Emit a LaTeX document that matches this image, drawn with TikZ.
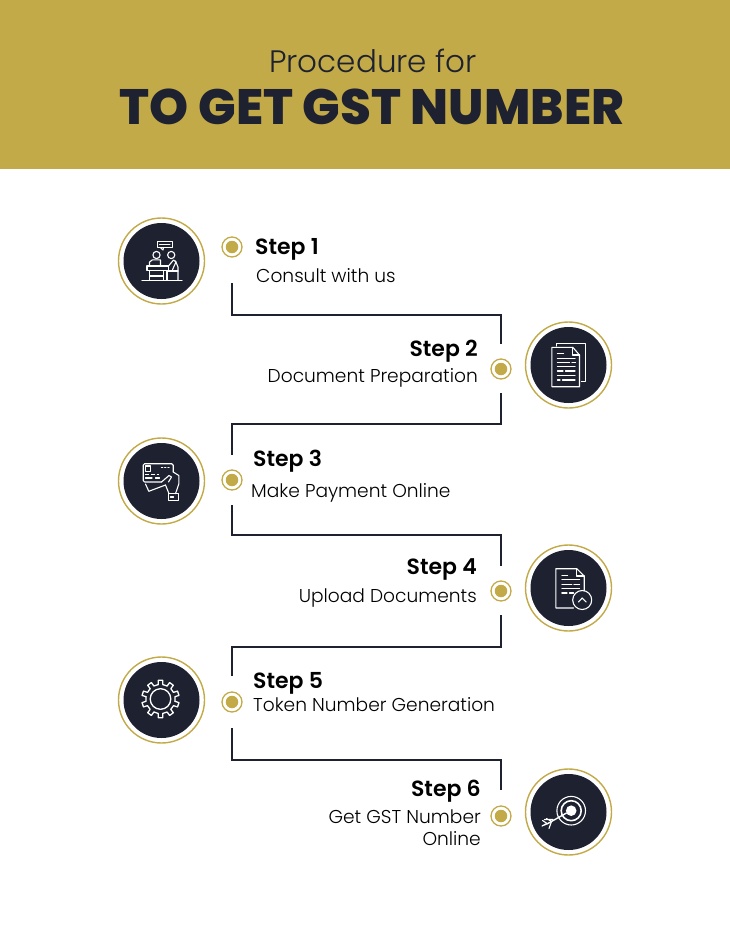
\documentclass[tikz,border=0pt]{standalone}
\usepackage{fontspec}
\setmainfont{Poppins}
\newfontfamily\lightfont{Poppins Light}
\newfontfamily\semifont{Poppins SemiBold}
\newfontfamily\heavyfont{Poppins ExtraBold}
\definecolor{gold}{HTML}{C3AA48}
\definecolor{navy}{HTML}{1E2130}
\tikzset{
  badge/.style={circle, draw=gold, line width=1.4pt, fill=white, minimum size=86pt, inner sep=0pt},
  disc/.style={circle, fill=navy, minimum size=76pt, inner sep=0pt},
  marker/.style={circle, draw=gold, line width=1.3pt, fill=white, minimum size=20pt, inner sep=0pt},
  markerdot/.style={circle, fill=gold, minimum size=12.5pt, inner sep=0pt},
  steptitle/.style={font=\semifont\fontsize{22}{26}\selectfont, text=black, inner sep=0pt},
  stepdesc/.style={font=\lightfont\fontsize{18.6}{22}\selectfont, text=black, inner sep=0pt},
  link/.style={draw=navy, line width=1.2pt},
  iconline/.style={draw=white, line width=1.1pt, line join=round, line cap=round}
}
\begin{document}
\begin{tikzpicture}[x=1pt, y=-1pt]
        \useasboundingbox (0,0) rectangle (730,942);

        % Header band
        \fill[gold] (0,0) rectangle (730,169);
        \node[text=navy, inner sep=0pt, anchor=base, font=\lightfont\fontsize{31}{36}\selectfont] (subtitle) at (373,73) {Procedure for};
        \node[text=navy, inner sep=0pt, anchor=base, font=\heavyfont\fontsize{49.7}{56}\selectfont] (title) at (372,124) {TO GET GST NUMBER};

        % Round badges
        \node[badge] (badge1) at (161.5,261) {};
        \node[badge] (badge2) at (568.5,365) {};
        \node[badge] (badge3) at (161.5,481) {};
        \node[badge] (badge4) at (568.5,588) {};
        \node[badge] (badge5) at (161.5,700) {};
        \node[badge] (badge6) at (568.5,812) {};
        \node[disc] (disc1) at (badge1) {};
        \node[disc] (disc2) at (badge2) {};
        \node[disc] (disc3) at (badge3) {};
        \node[disc] (disc4) at (badge4) {};
        \node[disc] (disc5) at (badge5) {};
        \node[disc] (disc6) at (badge6) {};

        % Small markers
        \node[marker] (dot1) at (232,247) {};
        \node[marker] (dot2) at (501,369) {};
        \node[marker] (dot3) at (232,480) {};
        \node[marker] (dot4) at (501,591) {};
        \node[marker] (dot5) at (232,702) {};
        \node[marker] (dot6) at (501,816) {};
        \node[markerdot] (core1) at (dot1) {};
        \node[markerdot] (core2) at (dot2) {};
        \node[markerdot] (core3) at (dot3) {};
        \node[markerdot] (core4) at (dot4) {};
        \node[markerdot] (core5) at (dot5) {};
        \node[markerdot] (core6) at (dot6) {};

        % Step titles
        \node[steptitle, anchor=base west] (step1) at (255,254) {Step 1};
        \node[steptitle, anchor=base east] (step2) at (478,356) {Step 2};
        \node[steptitle, anchor=base west] (step3) at (253,466) {Step 3};
        \node[steptitle, anchor=base east] (step4) at (477,574) {Step 4};
        \node[steptitle, anchor=base west] (step5) at (253,688) {Step 5};
        \node[steptitle, anchor=base east] (step6) at (481,796) {Step 6};

        % Step descriptions
        \node[stepdesc, anchor=base west] (desc1) at (256,282) {Consult with us};
        \node[stepdesc, anchor=base east] (desc2) at (478,382) {Document Preparation};
        \node[stepdesc, anchor=base west] (desc3) at (251,497) {Make Payment Online};
        \node[stepdesc, anchor=base east] (desc4) at (477,602) {Upload Documents};
        \node[stepdesc, anchor=base west] (desc5) at (253,711) {Token Number Generation};
        \node[stepdesc, anchor=base east] (desc6) at (481,823) {Get GST Number};
        \node[stepdesc, anchor=base east] (desc6b) at (481,845) {Online};

        % Connectors between markers
        \draw[link] ([yshift=-36pt]dot1.center) -- ++(0,32) -| ([yshift=25pt]dot2.center);
        \draw[link] ([yshift=-24pt]dot2.center) -- ++(0,31) -| ([yshift=25pt]dot3.center);
        \draw[link] ([yshift=-25pt]dot3.center) -- ++(0,30) -| ([yshift=25pt]dot4.center);
        \draw[link] ([yshift=-24pt]dot4.center) -- ++(0,32) -| ([yshift=26pt]dot5.center);
        \draw[link] ([yshift=-26pt]dot5.center) -- ++(0,32) -| ([yshift=26pt]dot6.center);

        % Icon: consultation
        \begin{scope}[shift={(badge1)}, iconline]
            \draw (-4.3,-19.7) rectangle (11,-13.3);
            \draw[line width=1pt] (-2,-16.5) -- (8.5,-16.5);
            \draw (-1,-13.3) -- (1.5,-11) -- (2,-13.3);
            \draw (-5,-6) circle (3.6);
            \draw (9.7,-6) circle (3.6);
            \draw (-12,5) -- (-12,1) -- (-9,-1.2) -- (-1,-1.2) -- (-1,5);
            \draw (7,5) -- (12,-1) -- (14.5,1) -- (11,8.7);
            \draw (14,0) -- (16.5,6) -- (16.5,19);
            \draw (-14.5,5) rectangle (7,9.7);
            \draw (-12,9.7) -- (-12,19);
            \draw (2,9.7) -- (2,19);
            \draw (-12,15) -- (2,15);
            \draw (5.5,10) -- (16.5,10);
            \draw (5.5,10) -- (5.5,19);
            \draw (-19.5,19.3) -- (20.5,19.3);
        \end{scope}

        % Icon: documents
        \begin{scope}[shift={(badge2)}, iconline]
            \draw (-12.3,-19) -- (-12.3,-21.7) -- (16.7,-21.7) -- (16.7,16.7) -- (13,16.7);
            \draw (-16.7,-17.7) -- (4.3,-17.7) -- (11,-10) -- (11,21.7) -- (-16.7,21.7) -- cycle;
            \draw (4.3,-17.7) -- (4.3,-10) -- (11,-10);
            \draw (-11,-11.5) -- (-5,-11.5);
            \draw (-11,-6.7) -- (6.5,-6.7);
            \draw (-11,-2.3) -- (1,-2.3);
            \draw (3.5,-2.3) -- (7,-2.3);
            \draw (-11,1.7) -- (6.5,1.7);
            \draw (-11,6) -- (-5.5,6);
            \draw (-3,6) -- (6.5,6);
            \draw (-11,10.7) -- (6.5,10.7);
            \draw (-11,15) -- (-8.5,15);
            \draw (-6,15) -- (6.5,15);
        \end{scope}

        % Icon: card payment
        \begin{scope}[shift={(badge3)}, iconline]
            \draw[rounded corners=1.5pt] (0,1) -- (-18.3,1) -- (-18.3,-17.3) -- (11.7,-17.3) -- (11.7,-9);
            \draw (-16,-15) rectangle (-11,-9.7);
            \draw[dotted, line width=1.2pt] (0,-13.3) -- (9,-13.3);
            \draw[dashed] (-16,-6.7) -- (-3,-6.7);
            \draw (-16,-3) -- (-9.5,-3);
            \draw (-6,-3) -- (-2,-3);
            \draw (-16,3) -- (-12.7,10.3) -- (4,4);
            \draw (0,1) -- (7.5,-5.5) -- (10,-4) -- (7,1);
            \draw (11.7,-9) -- (17.3,-5.5) -- (17.3,3) -- (14,12.7);
            \draw (4,4) -- (7.5,12.7);
            \draw (6.7,12.7) rectangle (17.3,19.3);
            \draw (9,16) -- (12,16);
        \end{scope}

        % Icon: upload document
        \begin{scope}[shift={(badge4)}, iconline]
            \draw (5,20) -- (-12.7,20) -- (-12.7,-19.3) -- (8.3,-19.3) -- (15.7,-12) -- (15.7,2.7);
            \draw (8.3,-19.3) -- (8.3,-12) -- (15.7,-12);
            \draw (-6.7,-12.7) -- (-1,-12.7);
            \draw (-6.7,-8.3) -- (11,-8.3);
            \draw (-6.7,-3.7) -- (3.3,-3.7);
            \draw (5.5,-3.7) -- (11,-3.7);
            \draw (-6.7,0.7) -- (11,0.7);
            \draw (-6.7,5) -- (-1.5,5);
            \draw (1,5) -- (5,5);
            \draw (13.7,12) circle (9.5);
            \draw (10,14) -- (13.7,10) -- (17.7,14);
        \end{scope}

        % Icon: gear
        \begin{scope}[shift={(badge5)}, iconline, line width=1.3pt]
            \draw (-1,-1) circle (10.3);
            \foreach \toothangle in {0,36,...,324}
                \draw[shift={(-1,-1)}, rotate=\toothangle]
                    (9:14.6) -- (11:18.8) -- (25:18.8) -- (27:14.6)
                    arc[start angle=27, end angle=45, radius=14.6];
        \end{scope}

        % Icon: target
        \begin{scope}[shift={(badge6)}, iconline]
            \draw (2.7,-1.3) circle (14.3);
            \draw[line width=1.6pt] (2.7,-1.3) circle (10);
            \fill[white] (2.7,-1.3) circle (5.3);
            \draw[line width=1.4pt] (-2,1) -- (-21,11.7);
            \draw (-21,11.7) -- (-26,8.5) (-17,9.5) -- (-22,6.5) (-24,7.5) -- (-15.5,7.5);
            \draw (-21,11.7) -- (-26.5,14) (-17,9.5) -- (-19.5,16.5) (-26.5,14) -- (-22,11.5);
        \end{scope}
    \end{tikzpicture}
\end{document}
